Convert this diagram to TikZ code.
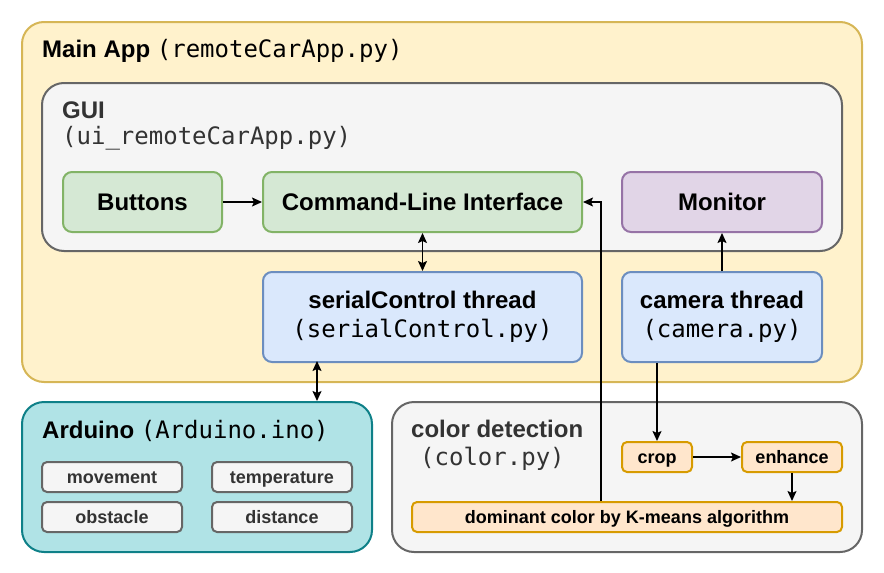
\documentclass[tikz,border=0pt]{standalone}
\usepackage{fontspec}
\setmainfont{Liberation Sans}
\setmonofont{DejaVu Sans Mono}
\usetikzlibrary{arrows.meta}
\definecolor{appfill}{HTML}{FFF2CC}
\definecolor{appline}{HTML}{D6B656}
\definecolor{grayfill}{HTML}{F5F5F5}
\definecolor{grayline}{HTML}{666666}
\definecolor{greenfill}{HTML}{D5E8D4}
\definecolor{greenline}{HTML}{82B366}
\definecolor{purpfill}{HTML}{E1D5E7}
\definecolor{purpline}{HTML}{9673A6}
\definecolor{bluefill}{HTML}{DAE8FC}
\definecolor{blueline}{HTML}{6C8EBF}
\definecolor{tealfill}{HTML}{B0E3E6}
\definecolor{tealline}{HTML}{0E8088}
\definecolor{orfill}{HTML}{FFE6CC}
\definecolor{orline}{HTML}{D79B00}
\definecolor{darktext}{HTML}{333333}
\newcommand{\monotxt}{\mdseries\ttfamily\fontsize{24}{28}\selectfont}
\begin{document}
\begin{tikzpicture}[x=1pt,y=-1pt,
  box/.style={draw, line width=2pt, rounded corners=9pt, anchor=north west, inner sep=0pt, align=center,
    font=\fontsize{24}{28}\selectfont\bfseries},
  onebox/.style={box, text height=17pt, text depth=0pt},
  container/.style={draw, line width=2pt, rounded corners=22pt, anchor=north west, inner sep=0pt},
  smallbox/.style={draw, line width=2pt, rounded corners=5pt, anchor=north west, inner sep=0pt,
    font=\fontsize{18}{21}\selectfont\bfseries, text height=13pt, text depth=0pt},
  title/.style={anchor=base west, inner sep=0pt, font=\fontsize{24}{28}\selectfont\bfseries},
  mono/.style={anchor=base west, inner sep=0pt, font=\monotxt},
  arr/.style={line width=1.5pt, -{Stealth[length=10pt,width=9pt,inset=2pt]}},
  biarr/.style={line width=1.5pt, {Stealth[length=10pt,width=9pt,inset=2pt]}-{Stealth[length=10pt,width=9pt,inset=2pt]}}
]
\useasboundingbox (0,0) rectangle (884,573);

% Main App container
\node[container, fill=appfill, draw=appline, minimum width=840pt, minimum height=360pt] (app) at (21,21) {};
\node[title] (apptitle) at (42,57) {Main App {\monotxt(remoteCarApp.py)}};

% GUI container
\node[container, fill=grayfill, draw=grayline, minimum width=800pt, minimum height=168pt] (gui) at (41,82) {};
\node[title, text=darktext] (guititle) at (62,118) {GUI};
\node[mono, text=darktext] (guifile) at (62,144) {(ui\_remoteCarApp.py)};

\node[onebox, fill=greenfill, draw=greenline, minimum width=159pt, minimum height=60pt] (btn) at (62,171) {Buttons};
\node[onebox, fill=greenfill, draw=greenline, minimum width=319pt, minimum height=60pt] (cli) at (262,171) {Command-Line Interface};
\node[onebox, fill=purpfill, draw=purpline, minimum width=200pt, minimum height=60pt] (mon) at (621,171) {Monitor};

\node[box, fill=bluefill, draw=blueline, minimum width=319pt, minimum height=90pt] (ser) at (262,271)
  {serialControl thread\\[1pt]{\monotxt(serialControl.py)}};
\node[box, fill=bluefill, draw=blueline, minimum width=200pt, minimum height=90pt] (cam) at (621,271)
  {camera thread\\[1pt]{\monotxt(camera.py)}};

% Arduino container
\node[container, fill=tealfill, draw=tealline, minimum width=350pt, minimum height=150pt] (ard) at (21,401) {};
\node[title] (ardtitle) at (42,438) {Arduino {\monotxt(Arduino.ino)}};
\node[smallbox, fill=grayfill, draw=grayline, text=darktext, minimum width=140pt, minimum height=30pt] (mov) at (41,461) {movement};
\node[smallbox, fill=grayfill, draw=grayline, text=darktext, minimum width=140pt, minimum height=30pt] (tmp) at (211,461) {temperature};
\node[smallbox, fill=grayfill, draw=grayline, text=darktext, minimum width=140pt, minimum height=30pt] (obs) at (41,501) {obstacle};
\node[smallbox, fill=grayfill, draw=grayline, text=darktext, minimum width=140pt, minimum height=30pt] (dst) at (211,501) {distance};

% color detection container
\node[container, fill=grayfill, draw=grayline, minimum width=470pt, minimum height=150pt] (col) at (391,401) {};
\node[title, text=darktext] (coltitle) at (411,437) {color detection};
\node[mono, text=darktext] (colfile) at (420,465) {(color.py)};
\node[smallbox, fill=orfill, draw=orline, minimum width=70pt, minimum height=30pt] (crop) at (621,441) {crop};
\node[smallbox, fill=orfill, draw=orline, minimum width=100pt, minimum height=30pt] (enh) at (741,441) {enhance};
\node[smallbox, fill=orfill, draw=orline, minimum width=430pt, minimum height=30pt] (dom) at (411,501) {dominant color by K-means algorithm};

% connectors
\coordinate (sertap) at (317,361);
\coordinate (ardtap) at (317,401);
\coordinate (domtap) at (601,501);

\draw[arr] (btn.east) -- (cli.west);
\draw[biarr] (cli.south) -- (ser.north);
\draw[biarr] (sertap) -- (ardtap);
\draw[arr] (cam.north) -- (mon.south);
\draw[arr] (cam.south -| crop.north) -- (crop.north);
\draw[arr] (crop.east) -- (enh.west);
\draw[arr] (enh.south) -- (enh.south |- dom.north);
\draw[arr] (domtap) |- (cli.east);
\end{tikzpicture}
\end{document}
